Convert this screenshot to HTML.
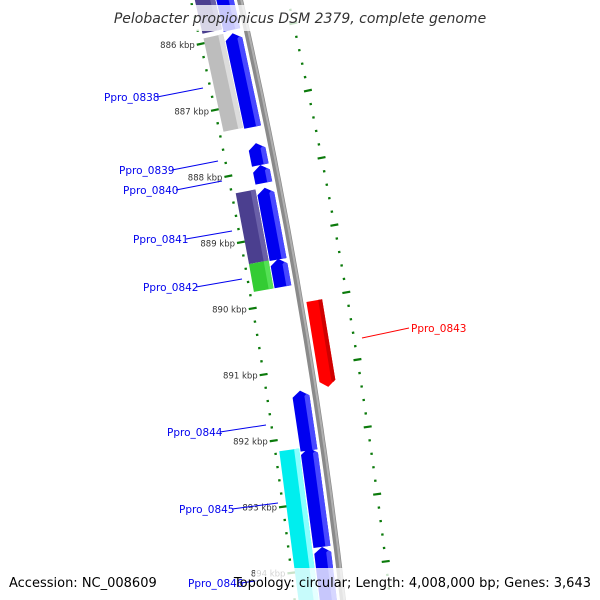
<!DOCTYPE html>
<html><head><meta charset="utf-8"><style>
html,body{margin:0;padding:0;background:#fff;}
svg{display:block;font-family:"DejaVu Sans","Liberation Sans",sans-serif;}
</style></head><body>
<svg id="map" width="600" height="600" viewBox="0 0 600 600" xmlns="http://www.w3.org/2000/svg">
<g id="ticks"></g>
<g id="backbone"></g>
<g id="genes"></g>
<g id="labels"></g>
<rect x="110" y="5" width="380" height="26" fill="#fff" fill-opacity="0.78"/>
<text x="300" y="23" text-anchor="middle" font-size="14" font-style="italic" fill="#333">Pelobacter propionicus DSM 2379, complete genome</text>
<rect x="255" y="568" width="343" height="32" fill="#fff" fill-opacity="0.78"/>
<text x="9" y="587" font-size="13" fill="#000">Accession: NC_008609</text>
<text x="591" y="587" text-anchor="end" font-size="13" fill="#000">Topology: circular; Length: 4,008,000 bp; Genes: 3,643</text>
</svg>
<script>
// gene data (kbp)
const geneNames = ["top-purple","top-blue","Ppro_0838","gene-a","Ppro_0839","Ppro_0840","Ppro_0841","gene-b","Ppro_0842","gene-c","Ppro_0843","Ppro_0844","Ppro_0845","gene-d","gene-e"];
const geneStart = [885.0,885.0,885.93,885.95,887.60,887.93,888.27,888.27,889.34,889.34,890.04,891.32,892.17,892.18,893.67];
const geneEnd   = [885.86,885.90,887.34,887.36,887.93,888.20,889.34,889.35,889.76,889.76,891.33,892.22,894.64,893.67,894.65];
const geneRing  = ["outer","inner","outer","inner","inner","inner","outer","inner","outer","inner","reverse","inner","outer","inner","inner"];
const geneColor = ["#4b3f8f","#0000f0","#bdbdbd","#0000f0","#0000f0","#0000f0","#4b3f8f","#0000f0","#33cc33","#0000f0","#ff0000","#0000f0","#00eeee","#0000f0","#0000f0"];
const geneLight = ["#6a60a8","#4848ff","#dcdcdc","#4848ff","#4848ff","#4848ff","#6a60a8","#4848ff","#55e055","#4848ff","#d00000","#4848ff","#88ffff","#4848ff","#4848ff"];
const tickStart = 885.2;
const tickEnd = 894.8;
const tickStep = 0.2;
const majorLabels = [886,887,888,889,890,891,892,893,894];
const labelTexts = ["Ppro_0838","Ppro_0839","Ppro_0840","Ppro_0841","Ppro_0842","Ppro_0843","Ppro_0844","Ppro_0845","Ppro_0846"];

const NS="http://www.w3.org/2000/svg";
function bx(y){return 240+0.228*y-9.4e-5*y*y;}
function slope(y){return 0.228-2*9.4e-5*y;}
function yb(k){return 33.5+(k-886)*66.7;}
function pt(k,off){const y=yb(k),s=slope(y),n=Math.sqrt(1+s*s);return [bx(y)+off/n, y-off*s/n];}
function mk(tag,attrs,parent){const e=document.createElementNS(NS,tag);for(const a in attrs)e.setAttribute(a,attrs[a]);parent.appendChild(e);return e;}
const ringOff={outer:[-44,-24],inner:[-23,-6],reverse:[6,22]};

// backbone
const bb=document.getElementById('backbone');
let d1="",d2="";
for(let y=-10;y<=610;y+=10){d1+=(y<0?"M":"L")+bx(y).toFixed(1)+","+y+" ";d2+=(y<0?"M":"L")+(bx(y)+1.3).toFixed(1)+","+y+" ";}
const p1=mk('path',{d:d1,stroke:"#8a8a8a","stroke-width":6,fill:"none"},bb);


const p2=mk('path',{d:d2,stroke:"#b0b0b0","stroke-width":2,fill:"none"},bb);



// ticks
const tg=document.getElementById('ticks');
for(let i=0;tickStart+i*tickStep<=tickEnd+1e-6;i++){
  const k=tickStart+i*tickStep;
  const major=Math.abs(k-Math.round(k))<1e-6;
  const len=major?4:1.2;
  [-48,47].forEach(o=>{
    const a=pt(k,o-len),b=pt(k,o+len);
    const l=mk('line',{x1:a[0],y1:a[1],x2:b[0],y2:b[1],stroke:"#0b7a0b","stroke-width":2.2},tg);
    
    
  });
}
majorLabels.forEach(k=>{
  const p=pt(k,-54);
  const t=mk('text',{x:p[0],y:p[1]+3,"text-anchor":"end","font-size":"8.5",fill:"#333"},tg);
  t.textContent=k+" kbp";
  
  
});

// genes
const gg=document.getElementById('genes');
function poly(k1,k2,o1,o2,head,dir){
  // dir: 'up' head at k1, 'down' head at k2
  const m=(o1+o2)/2;let P;
  if(dir==='up'){const kh=Math.min(k1+head,k2);
    P=[pt(k1,m),pt(kh,o2),pt(k2,o2),pt(k2,o1),pt(kh,o1)];}
  else{const kh=Math.max(k2-head,k1);
    P=[pt(k1,o1),pt(k1,o2),pt(kh,o2),pt(k2,m),pt(kh,o1)];}
  return P.map(p=>p[0].toFixed(1)+","+p[1].toFixed(1)).join(" ");
}
for(let i=0;i<geneNames.length;i++){
  const r=ringOff[geneRing[i]],k1=geneStart[i],k2=geneEnd[i];
  const g=mk('g',{},gg);
  
  
  if(geneRing[i]==='outer'){
    mk('polygon',{points:poly(k1,k2,r[0],r[1],0,'up'),fill:geneColor[i]},g);
    mk('polygon',{points:poly(k1,k2,r[1]-5,r[1],0,'up'),fill:geneLight[i]},g);
  }else if(geneRing[i]==='inner'){
    mk('polygon',{points:poly(k1,k2,r[0],r[1],0.09,'up'),fill:geneColor[i]},g);
    mk('polygon',{points:poly(k1+0.06,k2,r[1]-5,r[1],0.03,'up'),fill:geneLight[i]},g);
  }else{
    mk('polygon',{points:poly(k1,k2,r[0],r[1],0.09,'down'),fill:geneColor[i]},g);
    mk('polygon',{points:poly(k1,k2-0.06,r[1]-4,r[1],0.03,'down'),fill:geneLight[i]},g);
  }
}

// labels
const labelX=[104,119,123,133,143,411,167,179,188];
const labelY=[101,174,194,243,291,332,436,513,587];
const lineEnd=[[203,88],[218,161],[222,181],[232,231],[242,279],[362,338],[266,425],[278,503],[262,580]];
const lg=document.getElementById('labels');
for(let i=0;i<labelTexts.length;i++){
  const red=labelTexts[i]==="Ppro_0843";
  const col=red?"#ff0000":"#0000ee";
  const t=mk('text',{x:labelX[i],y:labelY[i],"font-size":"10.5",fill:col},lg);
  t.textContent=labelTexts[i];
  
  
  const sx=red?labelX[i]-2:labelX[i]+53, sy=labelY[i]-4;
  const l=mk('line',{x1:sx,y1:sy,x2:lineEnd[i][0],y2:lineEnd[i][1],stroke:col,"stroke-width":1},lg);
  
  
}
</script>
</body></html>
